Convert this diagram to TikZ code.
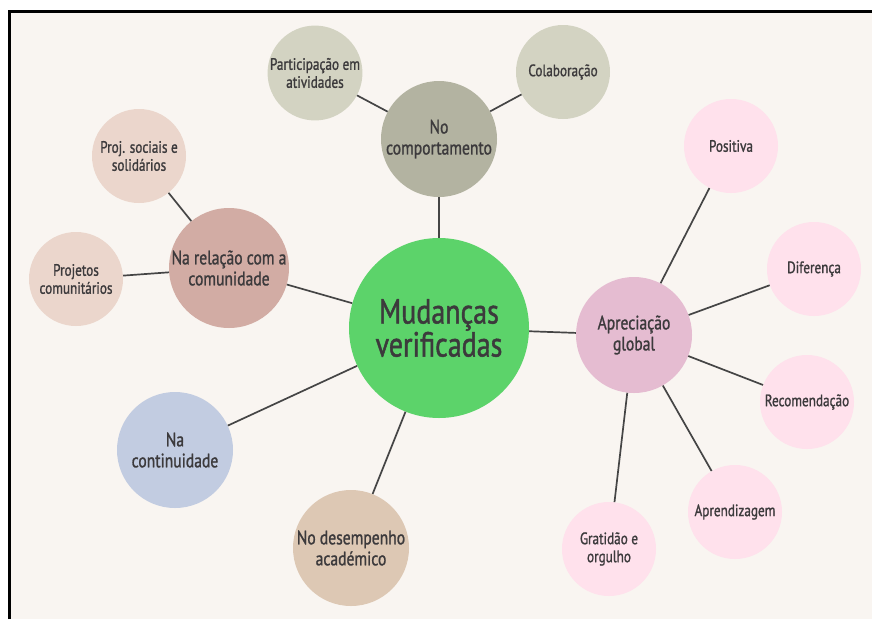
\documentclass[tikz,border=0pt]{standalone}
\usepackage{fontspec}
\setmainfont{PT Sans}[FakeStretch=0.8, FakeBold=1.2]
\definecolor{paper}{HTML}{F9F5F1}
\definecolor{inkgrey}{HTML}{3C3A3C}
\definecolor{linegrey}{HTML}{454545}
\definecolor{maingreen}{HTML}{5CD36A}
\definecolor{olivehub}{HTML}{B3B3A1}
\definecolor{oliveleaf}{HTML}{D3D3C2}
\definecolor{rosehub}{HTML}{D2ACA4}
\definecolor{roseleaf}{HTML}{EBD6CC}
\definecolor{bluehub}{HTML}{C2CCE1}
\definecolor{sandhub}{HTML}{DDC8B4}
\definecolor{mauvehub}{HTML}{E5BCD1}
\definecolor{pinkleaf}{HTML}{FFE1EC}

\begin{document}
\begin{tikzpicture}[x=1pt, y=-1pt,
    bubble/.style={circle, inner sep=0pt, align=center, text=inkgrey,
      font=\fontsize{16.5}{18}\selectfont},
    hub/.style={bubble, minimum size=116pt, font=\fontsize{19.5}{21}\selectfont},
    leaf/.style={bubble, minimum size=94pt},
    link/.style={draw=linegrey, line width=1.7pt}]
  % frame
  \useasboundingbox (0, 0) rectangle (872, 619);
  \fill[white] (0, 0) rectangle (872, 619);
  \fill[paper] (9, 12) rectangle (872, 619);
  \draw[black, line width=2.4pt] (9.5, 619) -- (9.5, 11.5) -- (872, 11.5);

  % centre
  \node[bubble, fill=maingreen, minimum size=180pt,
    font=\fontsize{35}{31}\selectfont] (mud) at (439, 328) {Mudanças\\verificadas};

  % hubs
  \node[hub, fill=olivehub] (comp) at (439, 139) {No\\comportamento};
  \node[hub, fill=rosehub] (comun) at (229, 268) {Na relação com a\\comunidade};
  \node[hub, fill=bluehub] (cont) at (175, 450) {Na\\continuidade};
  \node[hub, fill=sandhub] (desemp) at (351, 548) {No desempenho\\académico};
  \node[hub, fill=mauvehub] (aprec) at (634, 335) {Apreciação\\global};

  % leaves
  \node[leaf, fill=oliveleaf] (partic) at (315, 73) {Participação em\\atividades};
  \node[leaf, fill=oliveleaf] (colab) at (563, 72) {Colaboração};
  \node[leaf, fill=roseleaf] (proj) at (139, 156) {Proj. sociais e\\solidários};
  \node[leaf, fill=roseleaf] (projcom) at (76, 279) {Projetos\\comunitários};
  \node[leaf, fill=pinkleaf] (posit) at (731, 146) {Positiva};
  \node[leaf, fill=pinkleaf] (difer) at (814, 269) {Diferença};
  \node[leaf, fill=pinkleaf] (recom) at (807, 402) {Recomendação};
  \node[leaf, fill=pinkleaf] (aprend) at (735, 512) {Aprendizagem};
  \node[leaf, fill=pinkleaf] (grat) at (609, 549) {Gratidão e\\orgulho};

  % links
  \draw[link] (mud) -- (comp);
  \draw[link] (mud) -- (comun);
  \draw[link] (mud) -- (cont);
  \draw[link] (mud) -- (desemp);
  \draw[link] (mud) -- (aprec);
  \draw[link] (comp) -- (partic);
  \draw[link] (comp) -- (colab);
  \draw[link] (comun) -- (proj);
  \draw[link] (comun) -- (projcom);
  \draw[link] (aprec) -- (posit);
  \draw[link] (aprec) -- (difer);
  \draw[link] (aprec) -- (recom);
  \draw[link] (aprec) -- (aprend);
  \draw[link] (aprec) -- (grat);
\end{tikzpicture}
\end{document}
